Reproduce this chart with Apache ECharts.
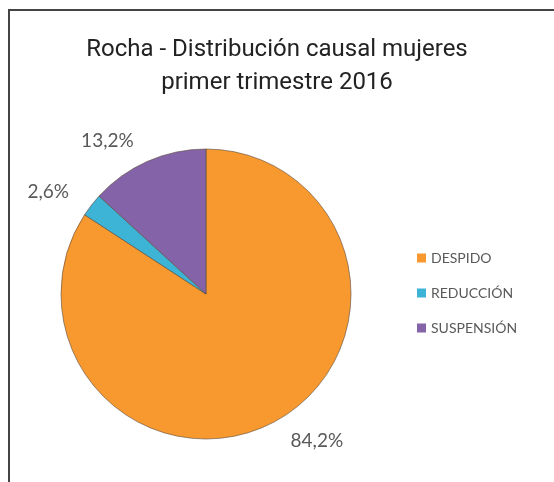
<!DOCTYPE html>
<html>
<head>
<meta charset="utf-8">
<script src="https://cdn.jsdelivr.net/npm/echarts@6/dist/echarts.min.js"></script>
<style>
  html, body { margin: 0; padding: 0; background: #fff; }
  #chart { width: 554px; height: 482px; }
</style>
</head>
<body>
<div id="chart"></div>
<script>
const categories = ['DESPIDO', 'REDUCCIÓN', 'SUSPENSIÓN'];
const values = [84.2, 2.6, 13.2];
const colors = ['#F7992F', '#3DB3D6', '#8463A8'];

const chart = echarts.init(document.getElementById('chart'));

const option = {
  backgroundColor: '#fff',
  color: colors,
  title: {
    text: 'Rocha - Distribución causal mujeres\nprimer trimestre 2016',
    left: 'center',
    top: 28,
    textStyle: {
      fontFamily: 'Roboto',
      fontSize: 24,
      fontWeight: 'normal',
      color: '#222',
      lineHeight: 33,
    },
  },
  legend: {
    orient: 'vertical',
    left: 412,
    top: 246,
    itemWidth: 9,
    itemHeight: 9,
    itemGap: 21,
    icon: 'rect',
    itemStyle: { borderWidth: 0 },
    textStyle: { fontFamily: 'Lato', fontSize: 14, color: '#595959' },
    data: categories,
  },
  // frame around the chart
  graphic: [
    {
      type: 'rect',
      shape: { x: 9, y: 10, width: 560, height: 490 },
      style: { fill: 'none', stroke: '#444', lineWidth: 2 },
      silent: true,
    },
  ],
  series: [
    {
      type: 'pie',
      center: [206, 294],
      radius: 145,
      startAngle: 90,
      clockwise: true,
      data: categories.map((name, i) => ({ name, value: values[i] })),
      itemStyle: { borderColor: '#5a4a3a', borderWidth: 0.6 },
      label: {
        show: true,
        position: 'outside',
        formatter: (p) => p.value.toFixed(1).replace('.', ',') + '%',
        fontFamily: 'Lato',
        fontSize: 19,
        color: '#595959',
      },
      labelLine: { show: false, length: 22, length2: 0 },
      emphasis: { disabled: true },
    },
  ],
};

chart.setOption(option);
</script>
</body>
</html>
